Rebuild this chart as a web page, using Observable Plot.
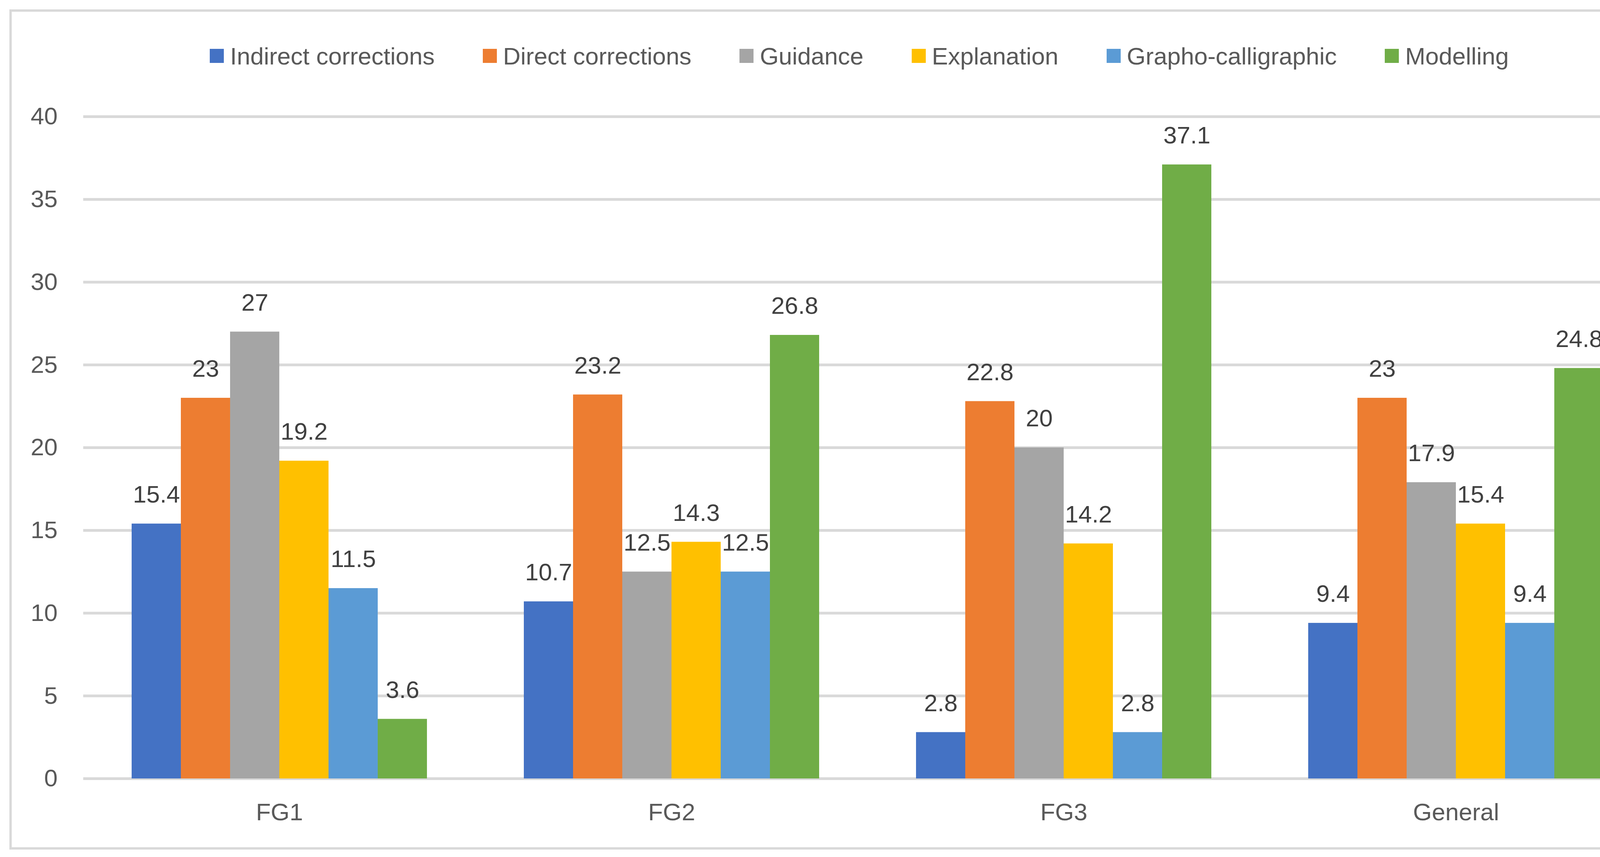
<!DOCTYPE html>
<html>
<head>
<meta charset="utf-8">
<script src="https://cdn.jsdelivr.net/npm/d3@7"></script>
<script src="https://cdn.jsdelivr.net/npm/@observablehq/plot@0.6"></script>
<style>
  html, body { margin: 0; padding: 0; background: #fff; overflow: hidden; }
  #page { position: relative; width: 4328px; height: 2193px; }
  #chart { position: absolute; left: 0; top: 0; }
  #frame {
    position: absolute; left: 24px; top: 24px; width: 4292px; height: 2138px;
    border: 6px solid #d9d9d9; pointer-events: none;
  }
  #legend { position: absolute; left: 537px; top: 107px; height: 72px; }
  .lg-swatches-wrap .lg-swatch { margin-right: 123px !important; }
  .lg-swatch > svg { margin-right: 16px !important; }
</style>
</head>
<body>
<div id="page">
  <div id="chart"></div>
  <div id="legend"></div>
  <div id="frame"></div>
</div>
<script>
const groups = ['FG1', 'FG2', 'FG3', 'General']
const categories = ['Indirect corrections', 'Direct corrections', 'Guidance', 'Explanation', 'Grapho-calligraphic', 'Modelling']
const colors = ['#4472c4', '#ed7d31', '#a5a5a5', '#ffc000', '#5b9bd5', '#70ad47']

// one array per series, in the order of groups
const indirect = [15.4, 10.7, 2.8, 9.4]
const direct = [23, 23.2, 22.8, 23]
const guidance = [27, 12.5, 20, 17.9]
const explanation = [19.2, 14.3, 14.2, 15.4]
const grapho = [11.5, 12.5, 2.8, 9.4]
const modelling = [3.6, 26.8, 37.1, 24.8]
const series = [indirect, direct, guidance, explanation, grapho, modelling]

const yTicks = [0, 5, 10, 15, 20, 25, 30, 35, 40]

const rows = groups.flatMap((g, i) =>
  categories.map((c, j) => ({group: g, category: c, value: series[j][i]})))

const font = '"Liberation Sans", Arial, sans-serif'

let chart = Plot.plot({
  width: 4328,
  height: 2193,
  marginTop: 298,
  marginBottom: 201,
  marginLeft: 213,
  marginRight: 99,
  style: {fontSize: '62px', fontFamily: font, color: '#595959', background: 'transparent'},
  facet: {data: rows, x: 'group'},
  fx: {padding: 0, axis: 'bottom', tickSize: 0, tickPadding: 62, label: null, domain: groups},
  x: {domain: categories, paddingInner: 0, paddingOuter: 0.97, axis: null},
  y: {domain: [0, 40], ticks: yTicks, tickSize: 0, tickPadding: 66, label: null},
  color: {domain: categories, range: colors},
  marks: [
    Plot.ruleY(yTicks, {stroke: '#d9d9d9', strokeWidth: 7}),
    Plot.barY(rows, {x: 'category', y: 'value', fill: 'category'}),
    Plot.text(rows, {
      x: 'category',
      y: 'value',
      text: d => String(d.value),
      dy: -74,
      fill: '#404040',
      fontSize: 62,
    }),
  ],
})

d3.select('#chart').append(() => chart)

let legend = Plot.legend({
  color: {type: 'ordinal', domain: categories, range: colors},
  className: 'lg',
  swatchSize: 36,
  style: {fontSize: '62px', fontFamily: font, color: '#595959', height: '72px', margin: '0'},
})
d3.select('#legend').append(() => legend)
</script>
</body>
</html>
